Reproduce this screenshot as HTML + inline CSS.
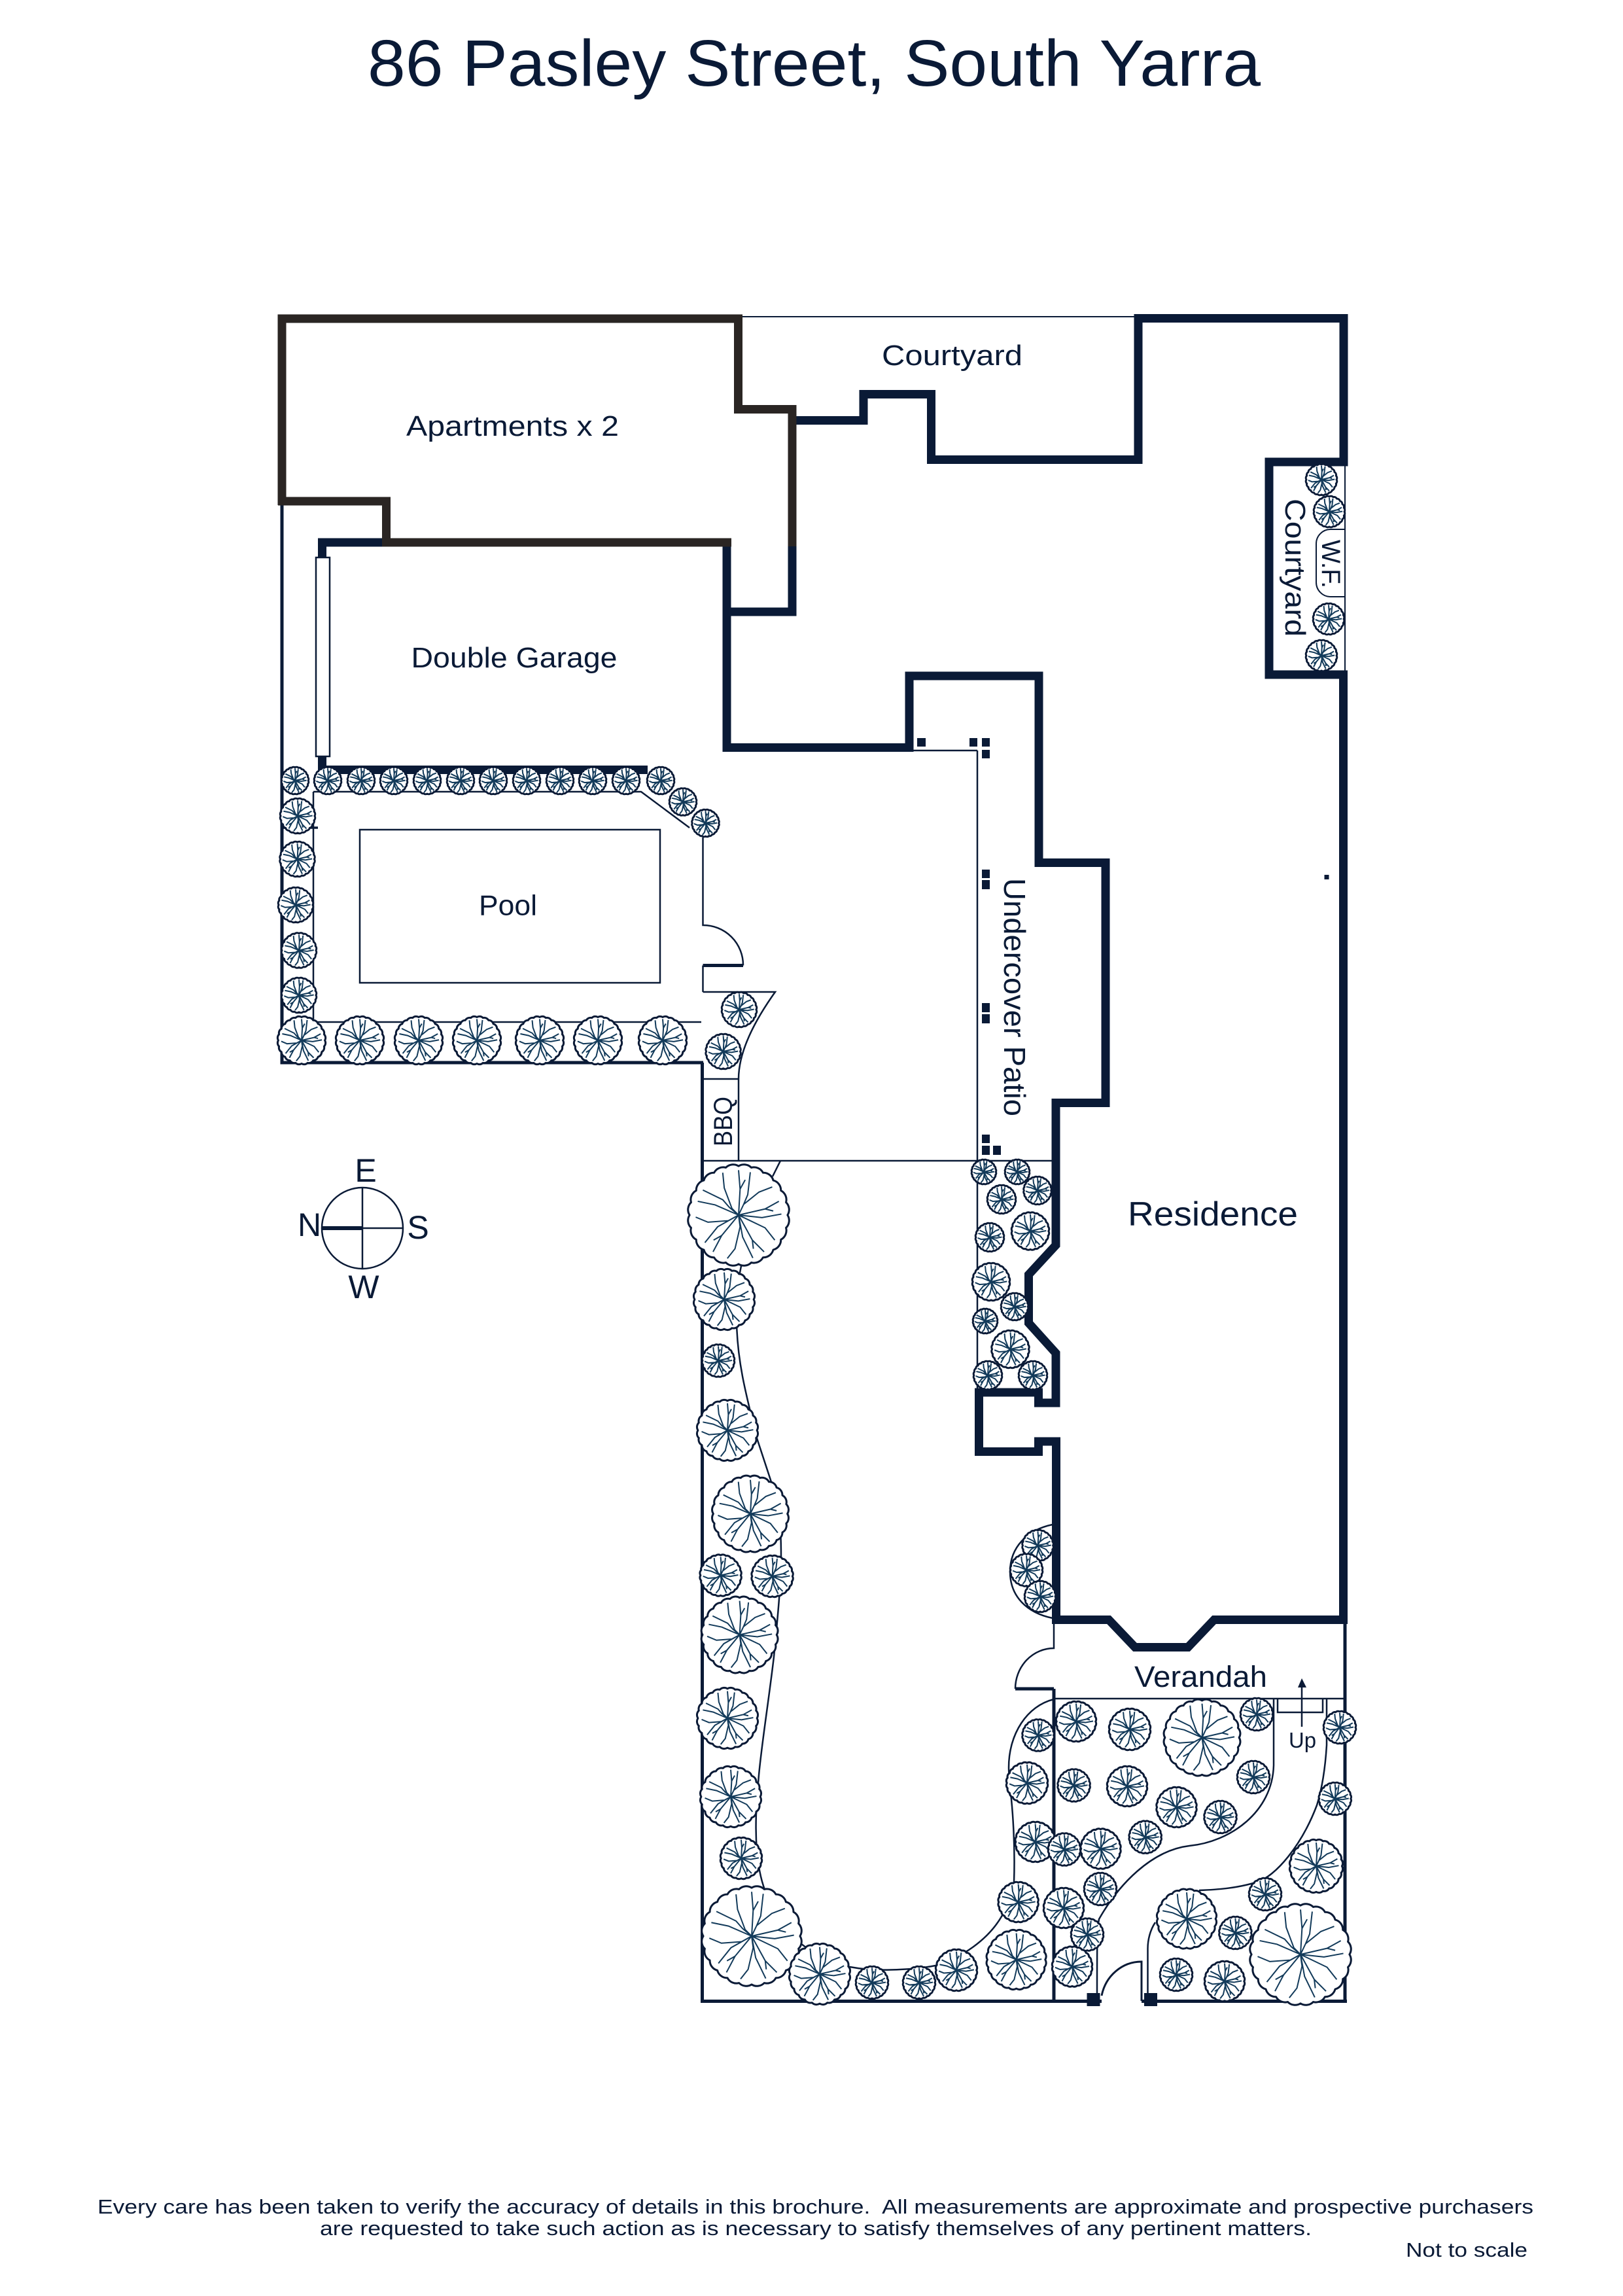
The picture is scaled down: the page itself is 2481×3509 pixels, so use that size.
<!DOCTYPE html>
<html>
<head>
<meta charset="utf-8">
<title>86 Pasley Street, South Yarra</title>
<style>
html,body{margin:0;padding:0;background:#fff;}
svg{display:block;}
text{font-family:"Liberation Sans",sans-serif;fill:#0a1a36;}
</style>
</head>
<body>
<svg xmlns="http://www.w3.org/2000/svg" width="2481" height="3509" viewBox="0 0 2481 3509">
<defs>
<g id="t">
<path d="M96,0A20,20 0 0 1 93,25A20,20 0 0 1 83,48A20,20 0 0 1 68,68A20,20 0 0 1 48,83A20,20 0 0 1 25,93A20,20 0 0 1 0,96A20,20 0 0 1 -25,93A20,20 0 0 1 -48,83A20,20 0 0 1 -68,68A20,20 0 0 1 -83,48A20,20 0 0 1 -93,25A20,20 0 0 1 -96,0A20,20 0 0 1 -93,-25A20,20 0 0 1 -83,-48A20,20 0 0 1 -68,-68A20,20 0 0 1 -48,-83A20,20 0 0 1 -25,-93A20,20 0 0 1 0,-96A20,20 0 0 1 25,-93A20,20 0 0 1 48,-83A20,20 0 0 1 68,-68A20,20 0 0 1 83,-48A20,20 0 0 1 93,-25A20,20 0 0 1 96,0Z" fill="#fff" stroke="#0a1a36" stroke-width="3" stroke-linejoin="round" vector-effect="non-scaling-stroke"/>
<path d="M0,0L-13,-13L-28,-53L-31,-83M0,0L3,-51L0,-88M3,-51L13,-69M0,0L10,-21L18,-40L23,-84M0,0L10,-21L40,-45L66,-55M0,0L52,-12L79,-27M52,-12L68,-8M0,0L46,5L84,-2M0,0L52,25L71,49M0,0L27,49L50,72M27,49L29,66M0,0L8,43L28,84M0,0L3,23L-7,66L-22,85M0,0L-33,40L-50,72M-33,40L-49,49M0,0L-41,23L-66,54M0,0L-20,11L-60,14L-84,4M0,0L-46,-20L-80,-27M0,0L-18,-15L-31,-30L-70,-49" fill="none" stroke="#123a5a" stroke-width="2" vector-effect="non-scaling-stroke"/>
</g>
</defs>
<rect width="2481" height="3509" fill="#fff"/>

<!-- Title -->
<text x="562" y="131" font-size="100" textLength="1365" lengthAdjust="spacingAndGlyphs">86 Pasley Street, South Yarra</text>

<!-- thin lines -->
<g fill="none" stroke="#0a1a36" stroke-width="2.5">
<path d="M1135,484H1734" stroke-width="2"/>
<path d="M2056,712V1025" stroke-width="2"/>
<path d="M2056,809H2034A22,22 0 0 0 2012,831V890A22,22 0 0 0 2034,912H2056" stroke-width="2"/>
<rect x="483" y="852" width="21" height="304" fill="#fff"/>
<path d="M431,1265H486" stroke-width="3.5"/>
<path d="M479,1210V1562H1072M479,1210H980L1054,1265"/>
<path d="M1074.5,1280V1414A61,61 0 0 1 1136,1475.5"/>
<path d="M1074.5,1475.5V1516"/>
<path d="M1074.5,1516H1185C1150,1565 1129,1610 1129,1649M1074.5,1649H1129V1774"/>
<path d="M1074,1774H1609"/>
<path d="M1494,1147H1396M1494,1147V2128" />
<rect x="550" y="1268" width="459" height="234"/>
<path d="M1193,1774L1181,1798M1134,1930L1130,1950"/>
<path d="M1126,2020C1127,2080 1140,2130 1157,2198L1180,2268C1190,2300 1194,2320 1194,2380C1194,2420 1188,2480 1183,2532C1175,2600 1165,2660 1160,2713C1156,2760 1154,2790 1157,2830C1160,2860 1165,2880 1172,2895C1185,2935 1205,2960 1225,2971C1250,2990 1275,3002 1299,3006C1320,3010 1340,3011 1361,3010.5C1385,3010 1410,3008 1430,3004C1470,2992 1510,2965 1531,2929C1545,2905 1550,2890 1550,2877C1552,2820 1548,2770 1546,2750C1544,2730 1542,2715 1542,2701C1542,2650 1570,2607 1611,2597"/>
<path d="M1609,2330C1570,2338 1544,2365 1544,2402C1544,2440 1570,2465 1609,2473"/>
<path d="M1611,2481V2519A59,62 0 0 0 1552,2581"/>
<path d="M1611,2596H2057"/>
<path d="M1947,2597V2698C1945,2770 1880,2815 1818,2821C1760,2828 1710,2880 1680,2933C1677,2950 1677,2960 1677,3046"/>
<path d="M2028,2597V2667C2026,2700 2022,2730 2013,2759C1990,2820 1950,2868 1921,2876.5C1890,2886 1860,2888 1833,2889"/>
<path d="M1766,2938C1758,2950 1754.5,2965 1754.5,2978V3046"/>
<path d="M1953,2597V2617H2022V2597"/>
<path d="M1990,2639V2575"/>
<path d="M1684,3050C1690,3020 1715,2998 1745,2998V3058" stroke-width="3"/>
</g>

<!-- medium walls -->
<g fill="none" stroke="#0a1a36" stroke-width="5">
<path d="M431,772V1624H1075" />
<path d="M1073.5,1624V3058.5H1684M1745,3058.5H2059"/>
<path d="M2056,2481V3058.5"/>
<path d="M1611,2581V3058"/>
<path d="M1074.5,1475.5H1136"/>
<path d="M1552,2581H1611"/>
</g>

<!-- navy thick walls -->
<g fill="none" stroke="#0a1a36" stroke-width="13" stroke-linejoin="miter" stroke-miterlimit="4">
<path d="M1211,642.5H1320V602.5H1423.5V702.5H1740V486.5H2054V706H1940V1031H2053.5V2475.5H1856L1816,2517.5H1735L1695,2475.5H1614.5V2203H1587.5V2218.5H1496.5V2128H1587.5V2144H1614V2068L1572.5,2022V1948L1614,1903V1685.5H1690V1318.5H1588V1033H1390V1142.5H1111V829"/>
<path d="M1211,835V935H1105"/>
<path d="M585,829H492.5V852M492.5,1156V1176.5M486,1176.5H990"/>
</g>
<!-- brown apartments walls -->
<g fill="none" stroke="#2a2523" stroke-width="13" stroke-linejoin="miter">
<path d="M431,772V487H1128.5V625.5H1211V835"/>
<path d="M425,766H590.5V829H1118"/>
</g>

<!-- posts and dots -->
<g fill="#0a1a36">
<rect x="1402" y="1128" width="13" height="13"/>
<rect x="1482" y="1128" width="12" height="13"/>
<rect x="1501" y="1128" width="12" height="13"/>
<rect x="1501" y="1146" width="12" height="13"/>
<rect x="1501" y="1329" width="12" height="13"/>
<rect x="1501" y="1345" width="12" height="14"/>
<rect x="1501" y="1533" width="12" height="14"/>
<rect x="1501" y="1550" width="12" height="14"/>
<rect x="1501" y="1734" width="12" height="13"/>
<rect x="1501" y="1751" width="12" height="14"/>
<rect x="1518" y="1751" width="12" height="14"/>
<rect x="2024.5" y="1337" width="7" height="7"/>
<rect x="1661.5" y="3046" width="20" height="20"/>
<rect x="1749" y="3046" width="20" height="20"/>
<polygon points="1990,2565 1997,2579 1984,2579"/>
</g>

<!-- Trees -->
<g>
<use href="#t" transform="translate(2020 733) scale(.24)"/>
<use href="#t" transform="translate(2032 782) scale(.24)"/>
<use href="#t" transform="translate(2031 946) scale(.24)"/>
<use href="#t" transform="translate(2020 1002) scale(.24)"/>
<use href="#t" transform="translate(451 1193) scale(.21)"/>
<use href="#t" transform="translate(501 1193) scale(.21)"/>
<use href="#t" transform="translate(552 1193) scale(.21)"/>
<use href="#t" transform="translate(602 1193) scale(.21)"/>
<use href="#t" transform="translate(653 1193) scale(.21)"/>
<use href="#t" transform="translate(704 1193) scale(.21)"/>
<use href="#t" transform="translate(754 1193) scale(.21)"/>
<use href="#t" transform="translate(805 1193) scale(.21)"/>
<use href="#t" transform="translate(856 1193) scale(.21)"/>
<use href="#t" transform="translate(906 1193) scale(.21)"/>
<use href="#t" transform="translate(957 1193) scale(.21)"/>
<use href="#t" transform="translate(1010 1193) scale(.21)"/>
<use href="#t" transform="translate(1044 1225.5) scale(.21)"/>
<use href="#t" transform="translate(1078.5 1258) scale(.21)"/>
<use href="#t" transform="translate(455 1247) scale(.27)"/>
<use href="#t" transform="translate(454.5 1313) scale(.27)"/>
<use href="#t" transform="translate(452 1383) scale(.27)"/>
<use href="#t" transform="translate(457 1452.5) scale(.27)"/>
<use href="#t" transform="translate(457 1521) scale(.27)"/>
<use href="#t" transform="translate(461 1590) scale(.37)"/>
<use href="#t" transform="translate(550 1590) scale(.37)"/>
<use href="#t" transform="translate(640 1590) scale(.37)"/>
<use href="#t" transform="translate(729 1590) scale(.37)"/>
<use href="#t" transform="translate(825 1590) scale(.37)"/>
<use href="#t" transform="translate(914 1590) scale(.37)"/>
<use href="#t" transform="translate(1013 1590) scale(.37)"/>
<use href="#t" transform="translate(1130 1543) scale(.27)"/>
<use href="#t" transform="translate(1105.6 1607) scale(.27)"/>
<use href="#t" transform="translate(1129 1857) scale(.78)"/>
<use href="#t" transform="translate(1107 1986) scale(.47)"/>
<use href="#t" transform="translate(1098 2079.5) scale(.25)"/>
<use href="#t" transform="translate(1504 1791) scale(.19)"/>
<use href="#t" transform="translate(1555 1791) scale(.19)"/>
<use href="#t" transform="translate(1531 1833) scale(.22)"/>
<use href="#t" transform="translate(1586 1819.5) scale(.215)"/>
<use href="#t" transform="translate(1513 1891) scale(.22)"/>
<use href="#t" transform="translate(1575 1881.5) scale(.29)"/>
<use href="#t" transform="translate(1515 1959) scale(.29)"/>
<use href="#t" transform="translate(1551 1997) scale(.21)"/>
<use href="#t" transform="translate(1506 2019) scale(.19)"/>
<use href="#t" transform="translate(1544.5 2062) scale(.29)"/>
<use href="#t" transform="translate(1510 2102) scale(.22)"/>
<use href="#t" transform="translate(1579 2102) scale(.22)"/>
<use href="#t" transform="translate(1112 2186) scale(.47)"/>
<use href="#t" transform="translate(1147 2313.6) scale(.59)"/>
<use href="#t" transform="translate(1101.6 2407.6) scale(.32)"/>
<use href="#t" transform="translate(1180.6 2409) scale(.32)"/>
<use href="#t" transform="translate(1130.6 2498.5) scale(.59)"/>
<use href="#t" transform="translate(1112 2626) scale(.47)"/>
<use href="#t" transform="translate(1117 2746) scale(.47)"/>
<use href="#t" transform="translate(1133 2840) scale(.32)"/>
<use href="#t" transform="translate(1149 2959) scale(.77)"/>
<use href="#t" transform="translate(1253 3017) scale(.47)"/>
<use href="#t" transform="translate(1333 3030) scale(.25)"/>
<use href="#t" transform="translate(1405 3030) scale(.25)"/>
<use href="#t" transform="translate(1462 3011) scale(.32)"/>
<use href="#t" transform="translate(1586.5 2362) scale(.24)"/>
<use href="#t" transform="translate(1569 2399.5) scale(.25)"/>
<use href="#t" transform="translate(1590 2440) scale(.24)"/>
<use href="#t" transform="translate(1645 2631) scale(.31)"/>
<use href="#t" transform="translate(1587 2652) scale(.245)"/>
<use href="#t" transform="translate(1727 2643) scale(.32)"/>
<use href="#t" transform="translate(1837.5 2655.6) scale(.59)"/>
<use href="#t" transform="translate(1921 2620) scale(.25)"/>
<use href="#t" transform="translate(1570 2725) scale(.32)"/>
<use href="#t" transform="translate(1641.6 2728.6) scale(.25)"/>
<use href="#t" transform="translate(1723 2730) scale(.31)"/>
<use href="#t" transform="translate(1916 2716) scale(.25)"/>
<use href="#t" transform="translate(1798.5 2762) scale(.31)"/>
<use href="#t" transform="translate(1865.5 2777) scale(.25)"/>
<use href="#t" transform="translate(1582.6 2815) scale(.31)"/>
<use href="#t" transform="translate(1627 2826.5) scale(.25)"/>
<use href="#t" transform="translate(1682.5 2825.5) scale(.31)"/>
<use href="#t" transform="translate(1750.7 2807.7) scale(.25)"/>
<use href="#t" transform="translate(1682 2887) scale(.25)"/>
<use href="#t" transform="translate(1556.6 2907) scale(.31)"/>
<use href="#t" transform="translate(1626 2916) scale(.31)"/>
<use href="#t" transform="translate(1662 2956.6) scale(.25)"/>
<use href="#t" transform="translate(1553.6 2995) scale(.46)"/>
<use href="#t" transform="translate(1639 3005.6) scale(.31)"/>
<use href="#t" transform="translate(1814 2932.6) scale(.46)"/>
<use href="#t" transform="translate(1888.4 2954) scale(.25)"/>
<use href="#t" transform="translate(1934 2895) scale(.25)"/>
<use href="#t" transform="translate(2012 2852) scale(.41)"/>
<use href="#t" transform="translate(1988 2987) scale(.78)"/>
<use href="#t" transform="translate(1798 3018) scale(.25)"/>
<use href="#t" transform="translate(1872 3028) scale(.31)"/>
<use href="#t" transform="translate(2048 2640) scale(.25)"/>
<use href="#t" transform="translate(2040.8 2749) scale(.25)"/>
</g>

<!-- Compass -->
<g fill="none" stroke="#0a1a36" stroke-width="2.5">
<circle cx="554" cy="1877" r="62"/>
<path d="M554,1815V1939M554,1877H616"/>
<path d="M492,1877H554" stroke-width="6"/>
</g>
<text x="559" y="1806" font-size="50" text-anchor="middle">E</text>
<text x="639" y="1893" font-size="50" text-anchor="middle">S</text>
<text x="473" y="1889" font-size="50" text-anchor="middle">N</text>
<text x="556" y="1984" font-size="50" text-anchor="middle">W</text>

<!-- Labels -->
<text x="621" y="666" font-size="44" textLength="325" lengthAdjust="spacingAndGlyphs">Apartments x 2</text>
<text x="628.5" y="1020" font-size="44" textLength="315" lengthAdjust="spacingAndGlyphs">Double Garage</text>
<text x="1348" y="558" font-size="44" textLength="215" lengthAdjust="spacingAndGlyphs">Courtyard</text>
<text x="732" y="1398.5" font-size="44" textLength="89" lengthAdjust="spacingAndGlyphs">Pool</text>
<text x="1724" y="1873" font-size="52" textLength="260" lengthAdjust="spacingAndGlyphs">Residence</text>
<text x="1734" y="2578" font-size="45" textLength="203" lengthAdjust="spacingAndGlyphs">Verandah</text>
<text x="1970" y="2671" font-size="33" textLength="42" lengthAdjust="spacingAndGlyphs">Up</text>
<text transform="translate(1965 762) rotate(90)" font-size="44" textLength="211" lengthAdjust="spacingAndGlyphs">Courtyard</text>
<text transform="translate(2021 825) rotate(90)" font-size="40" textLength="74" lengthAdjust="spacingAndGlyphs">W.F.</text>
<text transform="translate(1535 1342) rotate(90)" font-size="46" textLength="364" lengthAdjust="spacingAndGlyphs">Undercover Patio</text>
<text transform="translate(1119 1752) rotate(-90)" font-size="40" textLength="76" lengthAdjust="spacingAndGlyphs">BBQ</text>

<!-- Footer -->
<text x="149" y="3383" font-size="31" textLength="2195" lengthAdjust="spacingAndGlyphs" xml:space="preserve">Every care has been taken to verify the accuracy of details in this brochure.  All measurements are approximate and prospective purchasers</text>
<text x="489" y="3416" font-size="31" textLength="1516" lengthAdjust="spacingAndGlyphs">are requested to take such action as is necessary to satisfy themselves of any pertinent matters.</text>
<text x="2149" y="3449" font-size="31" textLength="186" lengthAdjust="spacingAndGlyphs">Not to scale</text>
</svg>
</body>
</html>
